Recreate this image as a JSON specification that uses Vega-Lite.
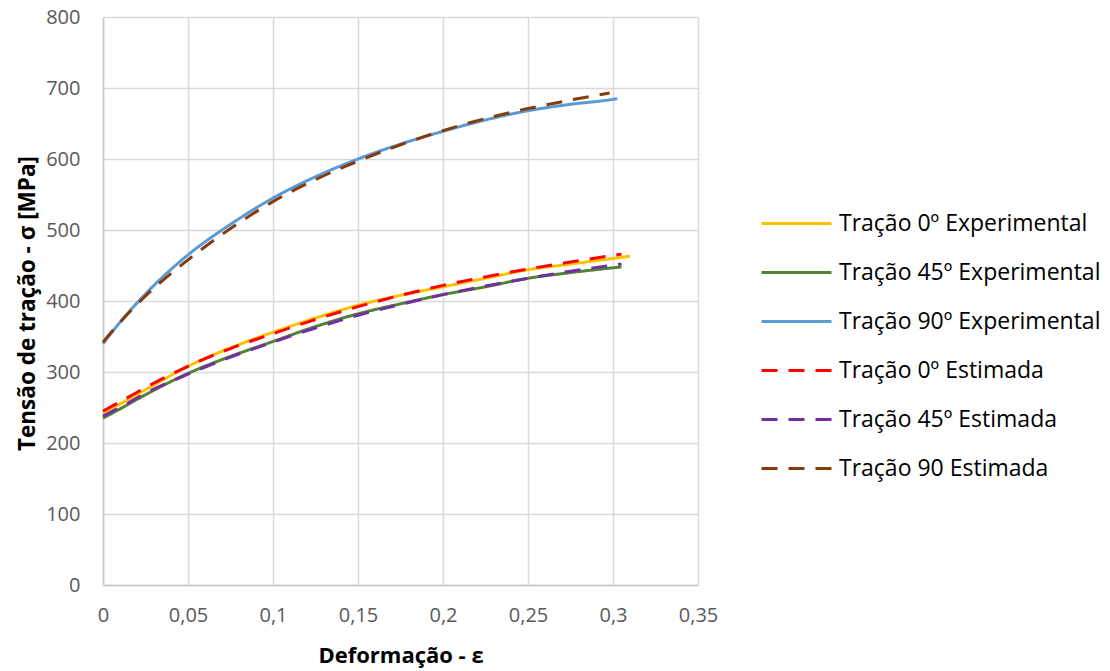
{
  "$schema": "https://vega.github.io/schema/vega-lite/v6.json",
  "width": 595,
  "height": 568,
  "autosize": {"type": "none"},
  "padding": {"left": 103, "top": 17, "right": 412, "bottom": 86},
  "background": "white",
  "config": {
    "view": {"stroke": null},
    "font": "Open Sans"
  },
  "data": {
    "values": [
      {"s": "Tração 0º Experimental", "x": 0, "y": 242},
      {"s": "Tração 0º Experimental", "x": 0.01, "y": 255},
      {"s": "Tração 0º Experimental", "x": 0.025, "y": 275},
      {"s": "Tração 0º Experimental", "x": 0.05, "y": 308},
      {"s": "Tração 0º Experimental", "x": 0.075, "y": 334},
      {"s": "Tração 0º Experimental", "x": 0.1, "y": 356},
      {"s": "Tração 0º Experimental", "x": 0.125, "y": 376},
      {"s": "Tração 0º Experimental", "x": 0.15, "y": 394},
      {"s": "Tração 0º Experimental", "x": 0.175, "y": 408},
      {"s": "Tração 0º Experimental", "x": 0.2, "y": 420},
      {"s": "Tração 0º Experimental", "x": 0.225, "y": 432},
      {"s": "Tração 0º Experimental", "x": 0.25, "y": 444},
      {"s": "Tração 0º Experimental", "x": 0.275, "y": 452},
      {"s": "Tração 0º Experimental", "x": 0.3, "y": 460},
      {"s": "Tração 0º Experimental", "x": 0.31, "y": 463},

      {"s": "Tração 45º Experimental", "x": 0, "y": 235},
      {"s": "Tração 45º Experimental", "x": 0.01, "y": 248},
      {"s": "Tração 45º Experimental", "x": 0.025, "y": 268},
      {"s": "Tração 45º Experimental", "x": 0.05, "y": 298},
      {"s": "Tração 45º Experimental", "x": 0.075, "y": 322},
      {"s": "Tração 45º Experimental", "x": 0.1, "y": 343},
      {"s": "Tração 45º Experimental", "x": 0.125, "y": 364},
      {"s": "Tração 45º Experimental", "x": 0.15, "y": 382},
      {"s": "Tração 45º Experimental", "x": 0.175, "y": 396},
      {"s": "Tração 45º Experimental", "x": 0.2, "y": 409},
      {"s": "Tração 45º Experimental", "x": 0.225, "y": 420},
      {"s": "Tração 45º Experimental", "x": 0.25, "y": 432},
      {"s": "Tração 45º Experimental", "x": 0.275, "y": 440},
      {"s": "Tração 45º Experimental", "x": 0.305, "y": 448},

      {"s": "Tração 90º Experimental", "x": 0, "y": 340},
      {"s": "Tração 90º Experimental", "x": 0.01, "y": 370},
      {"s": "Tração 90º Experimental", "x": 0.025, "y": 410},
      {"s": "Tração 90º Experimental", "x": 0.05, "y": 465},
      {"s": "Tração 90º Experimental", "x": 0.075, "y": 508},
      {"s": "Tração 90º Experimental", "x": 0.1, "y": 545},
      {"s": "Tração 90º Experimental", "x": 0.125, "y": 575},
      {"s": "Tração 90º Experimental", "x": 0.15, "y": 600},
      {"s": "Tração 90º Experimental", "x": 0.175, "y": 621},
      {"s": "Tração 90º Experimental", "x": 0.2, "y": 639},
      {"s": "Tração 90º Experimental", "x": 0.225, "y": 655},
      {"s": "Tração 90º Experimental", "x": 0.25, "y": 668},
      {"s": "Tração 90º Experimental", "x": 0.275, "y": 677},
      {"s": "Tração 90º Experimental", "x": 0.3, "y": 684},
      {"s": "Tração 90º Experimental", "x": 0.3025, "y": 685},

      {"s": "Tração 0º Estimada", "x": 0, "y": 245},
      {"s": "Tração 0º Estimada", "x": 0.01, "y": 258},
      {"s": "Tração 0º Estimada", "x": 0.025, "y": 278},
      {"s": "Tração 0º Estimada", "x": 0.05, "y": 308},
      {"s": "Tração 0º Estimada", "x": 0.075, "y": 333},
      {"s": "Tração 0º Estimada", "x": 0.1, "y": 354},
      {"s": "Tração 0º Estimada", "x": 0.125, "y": 374},
      {"s": "Tração 0º Estimada", "x": 0.15, "y": 392},
      {"s": "Tração 0º Estimada", "x": 0.175, "y": 408},
      {"s": "Tração 0º Estimada", "x": 0.2, "y": 422},
      {"s": "Tração 0º Estimada", "x": 0.225, "y": 434},
      {"s": "Tração 0º Estimada", "x": 0.25, "y": 445},
      {"s": "Tração 0º Estimada", "x": 0.275, "y": 455},
      {"s": "Tração 0º Estimada", "x": 0.305, "y": 466},

      {"s": "Tração 45º Estimada", "x": 0, "y": 238},
      {"s": "Tração 45º Estimada", "x": 0.01, "y": 250},
      {"s": "Tração 45º Estimada", "x": 0.025, "y": 270},
      {"s": "Tração 45º Estimada", "x": 0.05, "y": 297},
      {"s": "Tração 45º Estimada", "x": 0.075, "y": 321},
      {"s": "Tração 45º Estimada", "x": 0.1, "y": 342},
      {"s": "Tração 45º Estimada", "x": 0.125, "y": 362},
      {"s": "Tração 45º Estimada", "x": 0.15, "y": 380},
      {"s": "Tração 45º Estimada", "x": 0.175, "y": 395},
      {"s": "Tração 45º Estimada", "x": 0.2, "y": 409},
      {"s": "Tração 45º Estimada", "x": 0.225, "y": 421},
      {"s": "Tração 45º Estimada", "x": 0.25, "y": 432},
      {"s": "Tração 45º Estimada", "x": 0.275, "y": 442},
      {"s": "Tração 45º Estimada", "x": 0.305, "y": 452},

      {"s": "Tração 90 Estimada", "x": 0, "y": 342},
      {"s": "Tração 90 Estimada", "x": 0.01, "y": 370},
      {"s": "Tração 90 Estimada", "x": 0.025, "y": 407},
      {"s": "Tração 90 Estimada", "x": 0.05, "y": 458},
      {"s": "Tração 90 Estimada", "x": 0.075, "y": 502},
      {"s": "Tração 90 Estimada", "x": 0.1, "y": 540},
      {"s": "Tração 90 Estimada", "x": 0.125, "y": 571},
      {"s": "Tração 90 Estimada", "x": 0.15, "y": 597},
      {"s": "Tração 90 Estimada", "x": 0.175, "y": 620},
      {"s": "Tração 90 Estimada", "x": 0.2, "y": 640},
      {"s": "Tração 90 Estimada", "x": 0.225, "y": 657},
      {"s": "Tração 90 Estimada", "x": 0.25, "y": 671},
      {"s": "Tração 90 Estimada", "x": 0.275, "y": 683},
      {"s": "Tração 90 Estimada", "x": 0.298, "y": 693}
    ]
  },
  "mark": {"type": "line", "strokeWidth": 3, "interpolate": "monotone", "strokeCap": "butt"},
  "encoding": {
    "x": {
      "field": "x", "type": "quantitative",
      "scale": {"domain": [0, 0.35], "nice": false},
      "axis": {
        "values": [0, 0.05, 0.1, 0.15, 0.2, 0.25, 0.3, 0.35],
        "labelExpr": "replace(format(datum.value, '.2~f'), '.', ',')",
        "labelFlush": false,
        "title": "Deformação - ε",
        "titleFont": "Open Sans", "titleFontWeight": "bold", "titleFontSize": 22, "titleColor": "#000000",
        "titleY": 70, "titleBaseline": "middle",
        "labelFont": "Open Sans", "labelFontSize": 20, "labelColor": "#595959", "labelPadding": 20,
        "ticks": false, "domainColor": "#C8C8C8", "domainWidth": 1.5,
        "grid": true, "gridColor": "#D9D9D9", "gridWidth": 1.5
      }
    },
    "y": {
      "field": "y", "type": "quantitative",
      "scale": {"domain": [0, 800], "nice": false},
      "axis": {
        "values": [0, 100, 200, 300, 400, 500, 600, 700, 800],
        "title": "Tensão de tração - σ [MPa]",
        "titleFont": "Open Sans", "titleFontWeight": "bold", "titleFontSize": 22.5, "titleColor": "#000000",
        "titleX": -76, "titleY": 286, "titleBaseline": "middle", "titleAlign": "center", "titleAngle": -90,
        "labelFont": "Open Sans", "labelFontSize": 20, "labelColor": "#595959", "labelPadding": 23,
        "ticks": false, "domainColor": "#C8C8C8", "domainWidth": 1.5,
        "grid": true, "gridColor": "#D9D9D9", "gridWidth": 1.5
      }
    },
    "color": {
      "field": "s", "type": "nominal",
      "scale": {
        "domain": ["Tração 0º Experimental", "Tração 45º Experimental", "Tração 90º Experimental", "Tração 0º Estimada", "Tração 45º Estimada", "Tração 90 Estimada"],
        "range": ["#FFC000", "#548235", "#5B9BD5", "#FF0000", "#7030A0", "#843C0C"]
      },
      "legend": {
        "title": null, "orient": "none", "legendX": 657, "legendY": 170,
        "symbolType": "stroke", "symbolSize": 4900, "symbolStrokeWidth": 3,
        "labelFont": "Open Sans", "labelFontSize": 23, "labelColor": "#000000", "labelLimit": 400,
        "labelOffset": 6, "rowPadding": -20
      }
    },
    "strokeDash": {
      "field": "s", "type": "nominal",
      "scale": {
        "domain": ["Tração 0º Experimental", "Tração 45º Experimental", "Tração 90º Experimental", "Tração 0º Estimada", "Tração 45º Estimada", "Tração 90 Estimada"],
        "range": [[1, 0], [1, 0], [1, 0], [16, 11], [16, 11], [16, 11]]
      },
      "legend": {
        "title": null, "orient": "none", "legendX": 657, "legendY": 170,
        "symbolType": "stroke", "symbolSize": 4900, "symbolStrokeWidth": 3,
        "labelFont": "Open Sans", "labelFontSize": 23, "labelColor": "#000000", "labelLimit": 400,
        "labelOffset": 6, "rowPadding": -20
      }
    }
  }
}
